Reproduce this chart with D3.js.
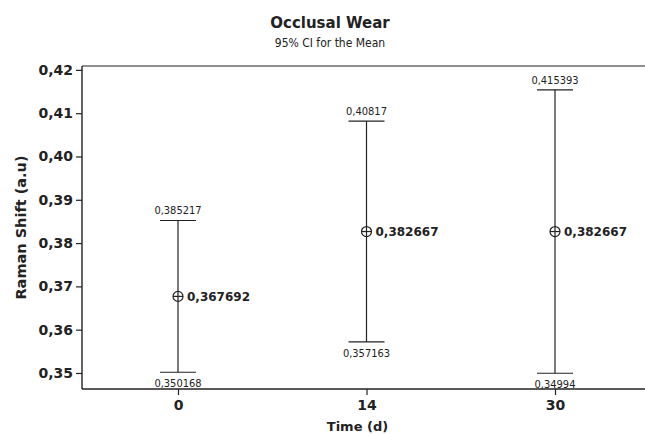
<!DOCTYPE html>
<html>
<head>
<meta charset="utf-8">
<script src="https://cdn.jsdelivr.net/npm/d3@7"></script>
<style>
  body { margin: 0; background: #fff; }
  svg { display: block; }
</style>
</head>
<body>
<svg id="chart" width="645" height="434"></svg>
<script>
const times = ['0', '14', '30'];
const means = [0.367692, 0.382667, 0.382667];
const lower = [0.350168, 0.357163, 0.34994];
const upper = [0.385217, 0.40817, 0.415393];
const yTicks = [0.35, 0.36, 0.37, 0.38, 0.39, 0.40, 0.41, 0.42];

const width = 645, height = 434;
const plot = { left: 82, top: 66, right: 646, bottom: 389 };
const ink = '#222';

const locale = d3.formatLocale({ decimal: ',', thousands: '.', grouping: [3], currency: ['', ''] });
const fmtTick = locale.format('.2f');
const fmtVal = locale.format('.6~f');

const svg = d3.select('#chart');

const x = d3.scalePoint()
  .domain(times)
  .range([178, 555]);

const y = d3.scaleLinear()
  .domain([0.3463, 0.4209])
  .range([plot.bottom, plot.top]);

// Titles
svg.append('text')
  .attr('x', 330).attr('y', 28)
  .attr('text-anchor', 'middle')
  .attr('font-family', 'DejaVu Sans, sans-serif')
  .attr('font-weight', 'bold')
  .attr('font-size', 15)
  .attr('fill', ink)
  .text('Occlusal Wear');

svg.append('text')
  .attr('x', 330).attr('y', 47)
  .attr('text-anchor', 'middle')
  .attr('font-family', 'DejaVu Sans Condensed, DejaVu Sans, sans-serif')
  .attr('font-stretch', 'condensed')
  .attr('font-size', 12)
  .attr('fill', ink)
  .text('95% CI for the Mean');

// Frame (top line, right side runs off the image)
svg.append('line')
  .attr('x1', plot.left).attr('x2', plot.right)
  .attr('y1', plot.top).attr('y2', plot.top)
  .attr('stroke', ink).attr('stroke-width', 1.2);

// Y axis
const yAxis = svg.append('g')
  .attr('transform', `translate(${plot.left},0)`)
  .call(d3.axisLeft(y).tickValues(yTicks).tickFormat(fmtTick).tickSize(6).tickPadding(3));
yAxis.select('.domain').attr('d', `M0,${plot.top}V${plot.bottom}`).attr('stroke', ink).attr('stroke-width', 1.4);
yAxis.selectAll('.tick line').attr('stroke', ink).attr('stroke-width', 1.2);
yAxis.selectAll('.tick text')
  .attr('font-family', 'DejaVu Sans, sans-serif')
  .attr('font-weight', 'bold')
  .attr('font-size', 14)
  .attr('fill', ink);

// X axis
const xAxis = svg.append('g')
  .attr('transform', `translate(0,${plot.bottom})`)
  .call(d3.axisBottom(x).tickSize(6).tickPadding(5));
xAxis.select('.domain').attr('d', `M${plot.left},0H${plot.right}`).attr('stroke', ink).attr('stroke-width', 1.4);
xAxis.selectAll('.tick line').attr('stroke', ink).attr('stroke-width', 1.2);
xAxis.selectAll('.tick text')
  .attr('font-family', 'DejaVu Sans, sans-serif')
  .attr('font-weight', 'bold')
  .attr('font-size', 14)
  .attr('fill', ink);

// Axis titles
svg.append('text')
  .attr('x', (plot.left + 645) / 2 - 6).attr('y', 431)
  .attr('text-anchor', 'middle')
  .attr('font-family', 'DejaVu Sans, sans-serif')
  .attr('font-weight', 'bold')
  .attr('font-size', 13)
  .attr('fill', ink)
  .text('Time (d)');

svg.append('text')
  .attr('transform', `translate(26,${(plot.top + plot.bottom) / 2}) rotate(-90)`)
  .attr('text-anchor', 'middle')
  .attr('font-family', 'DejaVu Sans, sans-serif')
  .attr('font-weight', 'bold')
  .attr('font-size', 14.5)
  .attr('fill', ink)
  .text('Raman Shift (a.u)');

// Interval plot
const data = times.map((t, i) => ({ t, mean: means[i], lo: lower[i], hi: upper[i] }));
const capW = 18;

const g = svg.append('g')
  .attr('stroke', ink)
  .attr('stroke-width', 1.2)
  .attr('fill', 'none');

g.selectAll('.bar')
  .data(data)
  .enter().append('line')
  .attr('x1', d => x(d.t)).attr('x2', d => x(d.t))
  .attr('y1', d => y(d.hi)).attr('y2', d => y(d.lo));

g.selectAll('.capHi')
  .data(data)
  .enter().append('line')
  .attr('x1', d => x(d.t) - capW).attr('x2', d => x(d.t) + capW)
  .attr('y1', d => y(d.hi)).attr('y2', d => y(d.hi));

g.selectAll('.capLo')
  .data(data)
  .enter().append('line')
  .attr('x1', d => x(d.t) - capW).attr('x2', d => x(d.t) + capW)
  .attr('y1', d => y(d.lo)).attr('y2', d => y(d.lo));

// Mean symbols (circle with cross)
g.selectAll('.dot')
  .data(data)
  .enter().append('circle')
  .attr('cx', d => x(d.t))
  .attr('cy', d => y(d.mean))
  .attr('r', 5);

g.selectAll('.dotH')
  .data(data)
  .enter().append('line')
  .attr('x1', d => x(d.t) - 5).attr('x2', d => x(d.t) + 5)
  .attr('y1', d => y(d.mean)).attr('y2', d => y(d.mean));

// Labels
const small = 'DejaVu Sans Condensed, DejaVu Sans, sans-serif';

svg.selectAll('.hiLabel')
  .data(data)
  .enter().append('text')
  .attr('x', d => x(d.t))
  .attr('y', d => y(d.hi) - 6)
  .attr('text-anchor', 'middle')
  .attr('font-family', small)
  .attr('font-stretch', 'condensed')
  .attr('font-size', 11)
  .attr('fill', ink)
  .text(d => fmtVal(d.hi));

svg.selectAll('.loLabel')
  .data(data)
  .enter().append('text')
  .attr('x', d => x(d.t))
  .attr('y', d => y(d.lo) + 15)
  .attr('text-anchor', 'middle')
  .attr('font-family', small)
  .attr('font-stretch', 'condensed')
  .attr('font-size', 11)
  .attr('fill', ink)
  .text(d => fmtVal(d.lo));

svg.selectAll('.meanLabel')
  .data(data)
  .enter().append('text')
  .attr('x', d => x(d.t) + 9)
  .attr('y', d => y(d.mean))
  .attr('dy', '0.35em')
  .attr('font-family', 'DejaVu Sans, sans-serif')
  .attr('font-weight', 'bold')
  .attr('font-size', 12)
  .attr('fill', ink)
  .text(d => fmtVal(d.mean));
</script>
</body>
</html>
